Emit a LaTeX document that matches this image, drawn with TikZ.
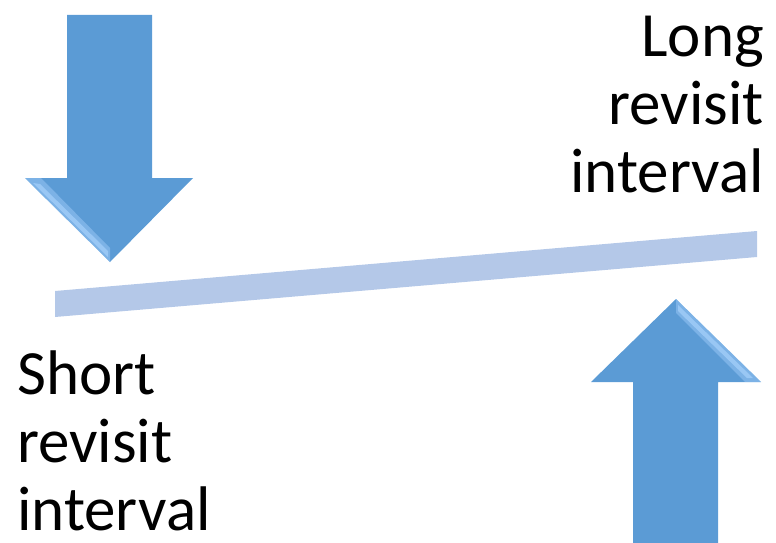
\documentclass[tikz,border=0pt]{standalone}
\usepackage{fontspec}
\setmainfont{Carlito}
\usepackage{tikz}
\definecolor{arrowblue}{HTML}{5B9BD5}
\definecolor{bevelblue}{HTML}{A6D0FB}
\definecolor{barblue}{HTML}{B4C8E8}
\tikzset{fat arrow/.style={fill=arrowblue},
  bevel/.style={fill=bevelblue, opacity=0.45},
  shine/.style={fill=bevelblue, opacity=0.7},
  big text/.style={font=\fontsize{63}{68}\selectfont, inner sep=0pt}}

\begin{document}
\begin{tikzpicture}[x=1pt,y=-1pt]
      \useasboundingbox (0,0) rectangle (776,543);

      % arrow pointing down
      \fill [fat arrow] (67,15) -- (152,15) -- (152,178) -- (193,178)
        -- (110,262) -- (25,178) -- (67,178) -- cycle;
      \fill [bevel] (25,178) -- (110,262) -- (110,248) -- (41,178) -- cycle;
      \fill [shine] (33,183) -- (108,257) -- (108,251) -- (40,184) -- cycle;

      % arrow pointing up
      \fill [fat arrow] (633,543) -- (633,382) -- (591,382) -- (676,299)
        -- (761,382) -- (718,382) -- (718,543) -- cycle;
      \fill [bevel] (676,299) -- (761,382) -- (745,382) -- (676,313) -- cycle;
      \fill [shine] (678,305) -- (753,378) -- (747,378) -- (678,311) -- cycle;

      % the bar
      \fill [barblue] (55,291) -- (757,231) -- (757,257) -- (55,317) -- cycle;

      \node [big text, anchor=base east, align=right] (long) at (764,192) {Long\\revisit\\interval};
      \node [big text, anchor=base west, align=left] (short) at (17,530) {Short\\revisit\\interval};
    \end{tikzpicture}
\end{document}
